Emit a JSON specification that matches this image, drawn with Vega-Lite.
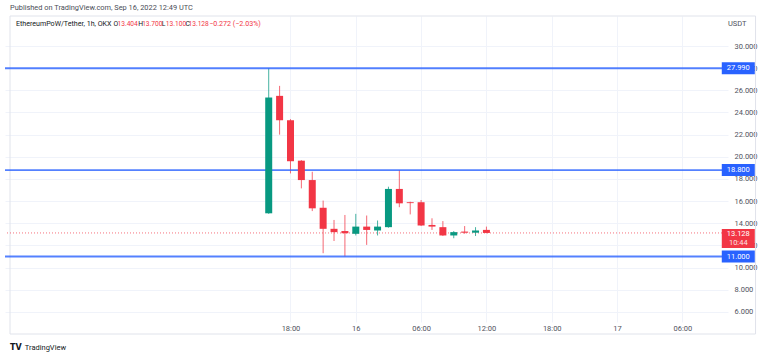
{
  "$schema": "https://vega.github.io/schema/vega-lite/v6.json",
  "width": 723,
  "height": 306,
  "autosize": {"type": "none"},
  "padding": {"left": 5, "top": 16, "right": 40, "bottom": 35},
  "background": "#ffffff",
  "config": {"view": {"stroke": null}, "font": "Roboto", "text": {"font": "Roboto"}, "axis": {"labelOverlap": false}},
  "datasets": {
    "candles": [
      {"t": "2022-09-15T16:00:00Z", "open": 14.9, "high": 27.99, "low": 14.85, "close": 25.35},
      {"t": "2022-09-15T17:00:00Z", "open": 25.5, "high": 26.4, "low": 22.0, "close": 23.3},
      {"t": "2022-09-15T18:00:00Z", "open": 23.3, "high": 23.4, "low": 18.5, "close": 19.6},
      {"t": "2022-09-15T19:00:00Z", "open": 19.65, "high": 19.7, "low": 17.15, "close": 17.9},
      {"t": "2022-09-15T20:00:00Z", "open": 17.9, "high": 18.65, "low": 15.1, "close": 15.35},
      {"t": "2022-09-15T21:00:00Z", "open": 15.4, "high": 16.05, "low": 11.3, "close": 13.5},
      {"t": "2022-09-15T22:00:00Z", "open": 13.5, "high": 14.3, "low": 12.4, "close": 13.2},
      {"t": "2022-09-15T23:00:00Z", "open": 13.3, "high": 14.75, "low": 11.0, "close": 13.1},
      {"t": "2022-09-16T00:00:00Z", "open": 13.05, "high": 14.85, "low": 12.9, "close": 13.7},
      {"t": "2022-09-16T01:00:00Z", "open": 13.7, "high": 14.7, "low": 12.05, "close": 13.4},
      {"t": "2022-09-16T02:00:00Z", "open": 13.35, "high": 14.25, "low": 12.9, "close": 13.7},
      {"t": "2022-09-16T03:00:00Z", "open": 13.65, "high": 17.3, "low": 13.6, "close": 17.1},
      {"t": "2022-09-16T04:00:00Z", "open": 17.1, "high": 18.8, "low": 15.45, "close": 15.8},
      {"t": "2022-09-16T05:00:00Z", "open": 15.9, "high": 15.95, "low": 14.8, "close": 15.82},
      {"t": "2022-09-16T06:00:00Z", "open": 15.9, "high": 16.1, "low": 13.75, "close": 13.8},
      {"t": "2022-09-16T07:00:00Z", "open": 13.85, "high": 14.45, "low": 13.4, "close": 13.7},
      {"t": "2022-09-16T08:00:00Z", "open": 13.65, "high": 14.2, "low": 12.85, "close": 12.9},
      {"t": "2022-09-16T09:00:00Z", "open": 12.9, "high": 13.3, "low": 12.65, "close": 13.2},
      {"t": "2022-09-16T10:00:00Z", "open": 13.25, "high": 13.75, "low": 13.05, "close": 13.15},
      {"t": "2022-09-16T11:00:00Z", "open": 13.15, "high": 13.65, "low": 12.85, "close": 13.35},
      {"t": "2022-09-16T12:00:00Z", "open": 13.404, "high": 13.7, "low": 13.1, "close": 13.128}
    ],
    "levels": [
      {"p": 27.99, "label": "27.990"},
      {"p": 18.8, "label": "18.800"},
      {"p": 11.0, "label": "11.000"}
    ]
  },
  "layer": [
    {
      "data": {"values": [{}]},
      "mark": {"type": "rect", "filled": false, "stroke": "#e0e3eb", "strokeWidth": 1, "clip": false},
      "encoding": {
        "x": {"datum": 1663172040000, "type": "temporal"},
        "x2": {"datum": 1663418602000},
        "y": {"datum": 32.7076, "type": "quantitative"},
        "y2": {"datum": 4.0072}
      }
    },
    {
      "data": {"name": "candles"},
      "mark": {"type": "rule", "strokeWidth": 1, "opacity": 0.75},
      "encoding": {
        "x": {
          "field": "t", "type": "temporal", "title": null,
          "scale": {"type": "utc", "domain": [1663172040000, 1663407840000]},
          "axis": {
            "title": null,
            "values": [1663264800000, 1663286400000, 1663308000000, 1663329600000, 1663351200000, 1663372800000, 1663394400000],
            "tickCount": 30,
            "labelExpr": "utcFormat(datum.value, '%H') == '00' ? utcFormat(datum.value, '%-d') : utcFormat(datum.value, '%H:%M')",
            "grid": true, "gridColor": "#f0f3fa", "gridWidth": 1,
            "domain": false, "ticks": false, "tickSize": 0, "labelOverlap": false,
            "labelPadding": 2, "labelFontSize": 7.5, "labelColor": "#50535e", "labelFont": "Roboto"
          }
        },
        "y": {
          "field": "low", "type": "quantitative", "title": null,
          "scale": {"domain": [5.0903, 32.7076], "nice": false, "zero": false},
          "axis": {
            "title": null, "orient": "right",
            "values": [6, 8, 10, 12, 14, 16, 18, 20, 22, 24, 26, 28, 30],
            "tickCount": 30,
            "format": ".3f",
            "grid": true, "gridColor": "#f0f3fa", "gridWidth": 1,
            "domain": false, "ticks": false, "tickSize": 0, "labelOverlap": false,
            "labelPadding": 6, "labelFontSize": 7.5, "labelColor": "#50535e", "labelFont": "Roboto"
          }
        },
        "y2": {"field": "high"},
        "color": {"condition": {"test": "datum.close >= datum.open", "value": "#089981"}, "value": "#f23645"}
      }
    },
    {
      "data": {"name": "levels"},
      "mark": {"type": "rule", "color": "#2962ff", "strokeWidth": 1.8, "opacity": 0.8},
      "encoding": {"y": {"field": "p", "type": "quantitative", "title": null}}
    },
    {
      "data": {"values": [{}]},
      "mark": {"type": "rule", "color": "#f23645", "strokeWidth": 1, "strokeDash": [1, 2], "opacity": 0.7},
      "encoding": {"y": {"datum": 13.128, "type": "quantitative"}}
    },
    {
      "data": {"name": "candles"},
      "mark": {"type": "bar", "size": 7},
      "encoding": {
        "x": {"field": "t", "type": "temporal", "title": null},
        "y": {"field": "open", "type": "quantitative", "title": null},
        "y2": {"field": "close"},
        "color": {"condition": {"test": "datum.close >= datum.open", "value": "#089981"}, "value": "#f23645"}
      }
    },
    {
      "data": {"name": "levels"},
      "mark": {"type": "tick", "orient": "horizontal", "size": 33, "thickness": 12, "color": "#2962ff", "opacity": 1, "clip": false},
      "encoding": {
        "x": {"datum": 1663412894000, "type": "temporal"},
        "y": {"field": "p", "type": "quantitative", "title": null}
      }
    },
    {
      "data": {"name": "levels"},
      "mark": {"type": "text", "color": "#ffffff", "fontSize": 7.5, "align": "center", "baseline": "middle", "clip": false},
      "encoding": {
        "x": {"datum": 1663412894000, "type": "temporal"},
        "y": {"field": "p", "type": "quantitative", "title": null},
        "text": {"field": "label"}
      }
    },
    {
      "data": {"values": [{}]},
      "mark": {"type": "tick", "orient": "horizontal", "size": 33, "thickness": 19, "color": "#f23645", "opacity": 1, "clip": false},
      "encoding": {
        "x": {"datum": 1663412894000, "type": "temporal"},
        "y": {"datum": 12.627, "type": "quantitative"}
      }
    },
    {
      "data": {"values": [{"s": "13.128"}]},
      "mark": {"type": "text", "color": "#ffffff", "fontSize": 7.5, "align": "center", "baseline": "middle", "clip": false},
      "encoding": {
        "x": {"datum": 1663412894000, "type": "temporal"},
        "y": {"datum": 13.04, "type": "quantitative"},
        "text": {"field": "s"}
      }
    },
    {
      "data": {"values": [{"s": "10:44"}]},
      "mark": {"type": "text", "color": "#ffffff", "fontSize": 7.5, "align": "center", "baseline": "middle", "clip": false, "opacity": 0.85},
      "encoding": {
        "x": {"datum": 1663412894000, "type": "temporal"},
        "y": {"datum": 12.2, "type": "quantitative"},
        "text": {"field": "s"}
      }
    },
    {
      "data": {"values": [{"s": "USDT"}]},
      "mark": {"type": "text", "color": "#50535e", "fontSize": 7.5, "align": "left", "baseline": "middle", "clip": false},
      "encoding": {
        "x": {"datum": 1663409470000, "type": "temporal"},
        "y": {"datum": 31.986, "type": "quantitative"},
        "text": {"field": "s"}
      }
    },
    {
      "data": {"values": [{"s": "Published on TradingView.com, Sep 16, 2022 12:49 UTC"}]},
      "mark": {"type": "text", "color": "#4a4d57", "fontSize": 7.4, "align": "left", "baseline": "middle", "clip": false},
      "encoding": {
        "x": {"datum": 1663172040000, "type": "temporal"},
        "y": {"datum": 33.43, "type": "quantitative"},
        "text": {"field": "s"}
      }
    },
    {
      "data": {"values": [{"s": "EthereumPoW/Tether, 1h, OKX"}]},
      "mark": {"type": "text", "color": "#131722", "fontSize": 7.1, "align": "left", "baseline": "middle", "clip": false},
      "encoding": {
        "x": {"datum": 1663173997000, "type": "temporal"},
        "y": {"datum": 31.986, "type": "quantitative"},
        "text": {"field": "s"}
      }
    },
    {
      "data": {"values": [{"s": "O"}]},
      "mark": {"type": "text", "color": "#131722", "fontSize": 6.8, "align": "left", "baseline": "middle", "clip": false},
      "encoding": {"x": {"datum": 1663206285000, "type": "temporal"}, "y": {"datum": 31.986, "type": "quantitative"}, "text": {"field": "s"}}
    },
    {
      "data": {"values": [{"s": "13.404"}]},
      "mark": {"type": "text", "color": "#f23645", "fontSize": 6.6, "align": "left", "baseline": "middle", "clip": false},
      "encoding": {"x": {"datum": 1663207589000, "type": "temporal"}, "y": {"datum": 31.986, "type": "quantitative"}, "text": {"field": "s"}}
    },
    {
      "data": {"values": [{"s": "H"}]},
      "mark": {"type": "text", "color": "#131722", "fontSize": 6.8, "align": "left", "baseline": "middle", "clip": false},
      "encoding": {"x": {"datum": 1663214438000, "type": "temporal"}, "y": {"datum": 31.986, "type": "quantitative"}, "text": {"field": "s"}}
    },
    {
      "data": {"values": [{"s": "13.700"}]},
      "mark": {"type": "text", "color": "#f23645", "fontSize": 6.6, "align": "left", "baseline": "middle", "clip": false},
      "encoding": {"x": {"datum": 1663215743000, "type": "temporal"}, "y": {"datum": 31.986, "type": "quantitative"}, "text": {"field": "s"}}
    },
    {
      "data": {"values": [{"s": "L"}]},
      "mark": {"type": "text", "color": "#131722", "fontSize": 6.8, "align": "left", "baseline": "middle", "clip": false},
      "encoding": {"x": {"datum": 1663222266000, "type": "temporal"}, "y": {"datum": 31.986, "type": "quantitative"}, "text": {"field": "s"}}
    },
    {
      "data": {"values": [{"s": "13.100"}]},
      "mark": {"type": "text", "color": "#f23645", "fontSize": 6.6, "align": "left", "baseline": "middle", "clip": false},
      "encoding": {"x": {"datum": 1663223570000, "type": "temporal"}, "y": {"datum": 31.986, "type": "quantitative"}, "text": {"field": "s"}}
    },
    {
      "data": {"values": [{"s": "C"}]},
      "mark": {"type": "text", "color": "#131722", "fontSize": 6.8, "align": "left", "baseline": "middle", "clip": false},
      "encoding": {"x": {"datum": 1663230093000, "type": "temporal"}, "y": {"datum": 31.986, "type": "quantitative"}, "text": {"field": "s"}}
    },
    {
      "data": {"values": [{"s": "13.128"}]},
      "mark": {"type": "text", "color": "#f23645", "fontSize": 6.6, "align": "left", "baseline": "middle", "clip": false},
      "encoding": {"x": {"datum": 1663231071000, "type": "temporal"}, "y": {"datum": 31.986, "type": "quantitative"}, "text": {"field": "s"}}
    },
    {
      "data": {"values": [{"s": "−0.272 (−2.03%)"}]},
      "mark": {"type": "text", "color": "#f23645", "fontSize": 7.1, "align": "left", "baseline": "middle", "clip": false},
      "encoding": {"x": {"datum": 1663237920000, "type": "temporal"}, "y": {"datum": 31.986, "type": "quantitative"}, "text": {"field": "s"}}
    },
    {
      "data": {"values": [{"s": "TV"}]},
      "mark": {"type": "text", "color": "#131722", "fontSize": 8, "fontWeight": "bold", "font": "DejaVu Sans", "align": "left", "baseline": "middle", "clip": false},
      "encoding": {"x": {"datum": 1663172040000, "type": "temporal"}, "y": {"datum": 2.744, "type": "quantitative"}, "text": {"field": "s"}}
    },
    {
      "data": {"values": [{"s": "TradingView"}]},
      "mark": {"type": "text", "color": "#131722", "fontSize": 7.5, "align": "left", "baseline": "middle", "clip": false},
      "encoding": {"x": {"datum": 1663176932000, "type": "temporal"}, "y": {"datum": 2.744, "type": "quantitative"}, "text": {"field": "s"}}
    }
  ]
}
